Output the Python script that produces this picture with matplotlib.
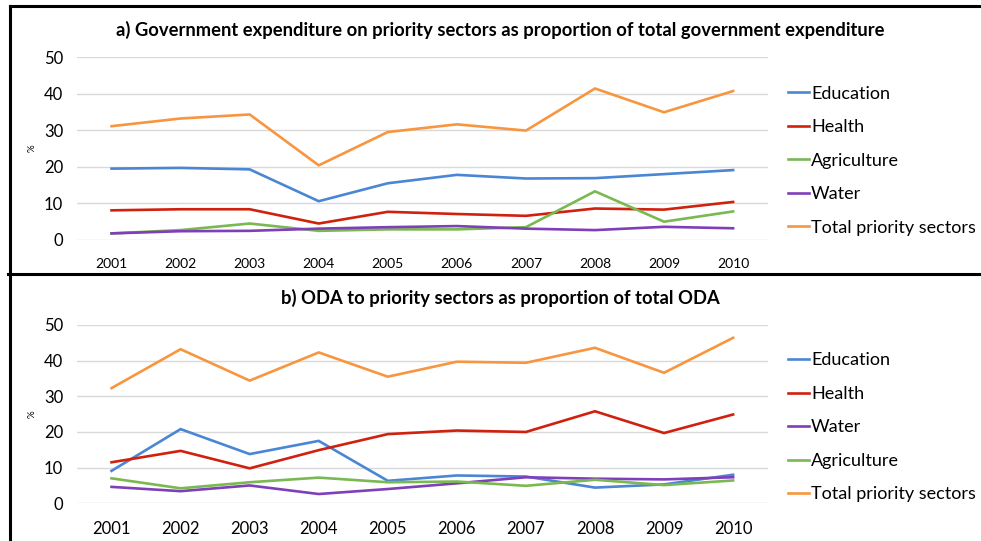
import matplotlib
matplotlib.use('Agg')
import matplotlib.pyplot as plt
from matplotlib.lines import Line2D

plt.rcParams['font.family'] = ['Lato', 'DejaVu Sans']

years = [2001, 2002, 2003, 2004, 2005, 2006, 2007, 2008, 2009, 2010]

# a) government expenditure, % of total government expenditure
gov_education = [19.5, 19.7, 19.3, 10.6, 15.5, 17.8, 16.8, 16.9, 18.0, 19.1]
gov_health = [8.1, 8.4, 8.4, 4.5, 7.7, 7.1, 6.6, 8.6, 8.3, 10.4]
gov_agriculture = [1.8, 2.7, 4.5, 2.5, 2.9, 2.9, 3.5, 13.3, 5.0, 7.8]
gov_water = [1.8, 2.4, 2.5, 3.1, 3.5, 3.8, 3.1, 2.7, 3.6, 3.2]
gov_total = [31.1, 33.2, 34.3, 20.4, 29.5, 31.6, 29.9, 41.4, 34.9, 40.7]

# b) ODA, % of total ODA
oda_education = [9.1, 20.8, 13.8, 17.5, 6.3, 7.8, 7.5, 4.4, 5.3, 8.0]
oda_health = [11.5, 14.7, 9.8, 14.9, 19.4, 20.4, 20.0, 25.8, 19.7, 24.9]
oda_water = [4.6, 3.4, 5.0, 2.6, 4.0, 5.6, 7.3, 6.9, 6.7, 7.3]
oda_agriculture = [7.0, 4.2, 5.9, 7.2, 5.9, 6.1, 4.9, 6.6, 5.1, 6.4]
oda_total = [32.3, 43.2, 34.4, 42.3, 35.5, 39.7, 39.4, 43.6, 36.6, 46.4]

colors = {
    'Education': '#4a86d4',
    'Health': '#d0200e',
    'Agriculture': '#7ab852',
    'Water': '#7e3fb8',
    'Total priority sectors': '#f7963f',
}

fig = plt.figure(figsize=(9.81, 5.41), dpi=100)

ax1 = fig.add_axes([0.0785, 0.5564, 0.704, 0.3382])
ax2 = fig.add_axes([0.0785, 0.0697, 0.704, 0.3296])

series_a = [('Education', gov_education), ('Health', gov_health),
            ('Agriculture', gov_agriculture), ('Water', gov_water),
            ('Total priority sectors', gov_total)]
series_b = [('Education', oda_education), ('Health', oda_health),
            ('Water', oda_water), ('Agriculture', oda_agriculture),
            ('Total priority sectors', oda_total)]

for ax, series, xfs, legy in [(ax1, series_a, 10, 0.703), (ax2, series_b, 12, 0.21)]:
    for name, vals in series:
        ax.plot(years, vals, color=colors[name], lw=1.9, label=name,
                solid_joinstyle='miter')
    ax.set_xlim(2000.5, 2010.5)
    ax.set_ylim(0, 50)
    ax.set_yticks([0, 10, 20, 30, 40, 50])
    ax.set_xticks(years)
    ax.grid(axis='y', color='#d9d9d9', lw=1)
    ax.set_axisbelow(True)
    for s in ax.spines.values():
        s.set_visible(False)
    ax.tick_params(length=0, pad=10)
    ax.tick_params(axis='x', labelsize=xfs, pad=13)
    ax.tick_params(axis='y', labelsize=12, pad=10)
    ax.set_ylabel('%', fontsize=7, labelpad=5)
    ax.legend(loc='center left', bbox_to_anchor=(0.803, legy),
              bbox_transform=fig.transFigure, frameon=False, fontsize=13,
              handlelength=1.2, handletextpad=0.1, labelspacing=0.97,
              borderpad=0, borderaxespad=0)

fig.text(0.51, 0.945, 'a) Government expenditure on priority sectors as proportion of total government expenditure',
         ha='center', va='center', fontsize=13.2, fontweight='bold')
fig.text(0.51, 0.449, 'b) ODA to priority sectors as proportion of total ODA',
         ha='center', va='center', fontsize=13.2, fontweight='bold')

# panel frames
for xs, ys in [([0.010, 0.010], [0.0, 0.989]), ([0.010, 1.0], [0.989, 0.989]),
               ([0.008, 1.0], [0.493, 0.493])]:
    fig.add_artist(Line2D(xs, ys, color='black', lw=2.2, transform=fig.transFigure))

fig.savefig('out.png', dpi=100)
